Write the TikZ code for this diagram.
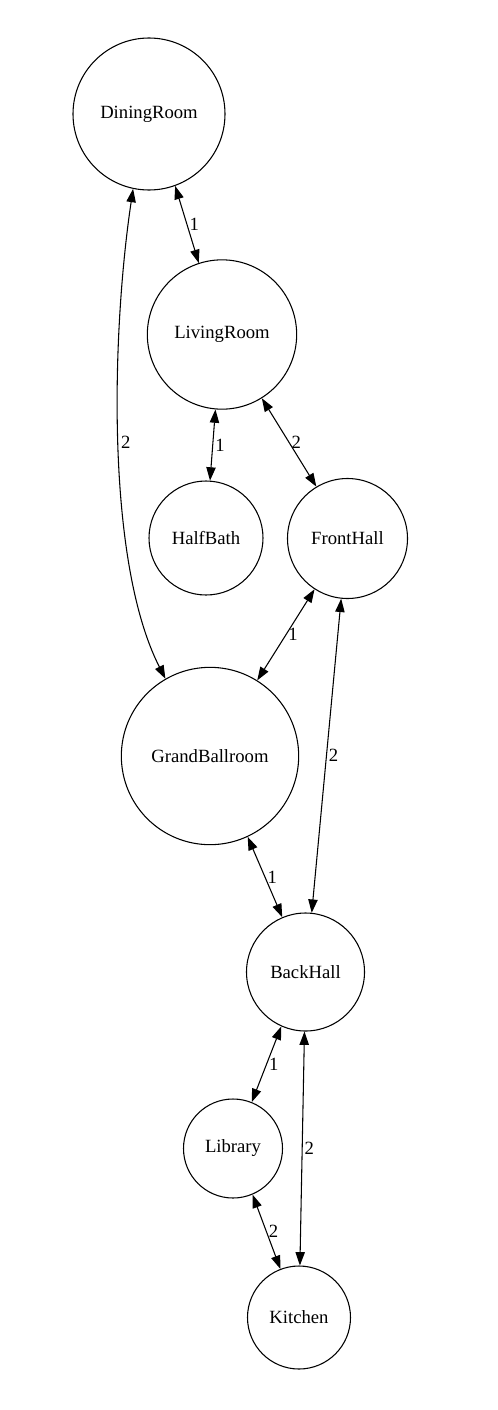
\documentclass[tikz,border=0pt]{standalone}
\usepackage{fontspec}
\setmainfont{Liberation Serif}
\usetikzlibrary{arrows.meta}

\begin{document}
\begin{tikzpicture}[
  x=0.75pt, y=-0.75pt,
  room/.style={circle, draw, line width=0.8pt, inner sep=0pt,
               font=\fontsize{14pt}{16pt}\selectfont},
  link/.style={{Triangle[length=10pt,width=7pt]}-{Triangle[length=10pt,width=7pt]},
               line width=0.8pt},
  lbl/.style={right, inner sep=1.5pt, font=\fontsize{14pt}{16pt}\selectfont}]
  \useasboundingbox (0,0) rectangle (498,1410);
  \node[room, minimum size=114pt] (dining) at (149,114) {DiningRoom};
  \node[room, minimum size=112pt] (living) at (222,334.5) {LivingRoom};
  \node[room, minimum size=85.5pt] (halfbath) at (206,538) {HalfBath};
  \node[room, minimum size=90pt] (fronthall) at (347.5,538.5) {FrontHall};
  \node[room, minimum size=133pt] (ballroom) at (210,756) {GrandBallroom};
  \node[room, minimum size=88.5pt] (backhall) at (305.5,972) {BackHall};
  \node[room, minimum size=74.25pt] (library) at (233,1148.5) {Library};
  \node[room, minimum size=77.25pt] (kitchen) at (299,1317.5) {Kitchen};
  \draw[link] (dining.-70) -- node[lbl]{1} (living.108);
  \draw[link] (dining.-102) .. controls (112,330) and (105,560) .. node[lbl]{2} (ballroom.120);
  \draw[link] (living.-95) -- node[lbl]{1} (halfbath.86);
  \draw[link] (living.-58) -- node[lbl]{2} (fronthall.121);
  \draw[link] (fronthall.-123) -- node[lbl]{1} (ballroom.58);
  \draw[link] (fronthall.-96) -- node[lbl]{2} (backhall.84);
  \draw[link] (ballroom.-65) -- node[lbl]{1} (backhall.113);
  \draw[link] (backhall.-114) -- node[lbl]{1} (library.68);
  \draw[link] (backhall.-91) -- node[lbl]{2} (kitchen.89);
  \draw[link] (library.-67) -- node[lbl]{2} (kitchen.111);
\end{tikzpicture}
\end{document}
